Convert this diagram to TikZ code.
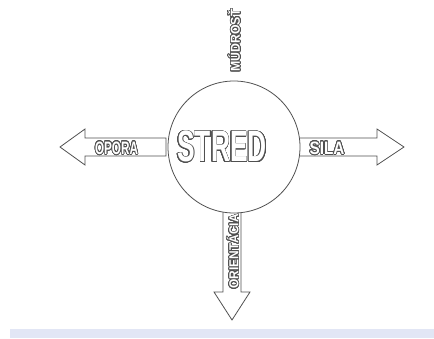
\documentclass[tikz,border=0pt]{standalone}
\usepackage{fontspec}
\setmainfont{Liberation Sans}
\usepackage{contour}
\usepackage{graphicx}
\contourlength{0.75pt}
\contournumber{24}
\definecolor{edge}{RGB}{80,80,80}
\definecolor{band}{RGB}{226,230,245}
\newcommand{\outltxt}[3]{{\fontsize{#2}{#2}\selectfont\bfseries\contour{edge}{\scalebox{#1}[1]{\color{white}#3}}}}
\tikzset{
  arrowshape/.style={draw=edge, line width=0.8pt, fill=white, line join=miter},
  lbl/.style={inner sep=0pt, outer sep=0pt},
}
\begin{document}
\begin{tikzpicture}[x=1pt,y=-1pt]
\useasboundingbox (0,0) rectangle (434,338);
\fill[band] (10,329) rectangle (434,338);
% arrows
\draw[arrowshape] (166,138) -- (85,138) -- (85,129) -- (60,147) -- (85,165) -- (85,156) -- (166,156) -- cycle;
\draw[arrowshape] (298,138) -- (377,138) -- (377,129) -- (404,147) -- (377,165) -- (377,156) -- (298,156) -- cycle;
\draw[arrowshape] (223,205) -- (223,292) -- (214,292) -- (232,320) -- (250,292) -- (241,292) -- (241,205) -- cycle;
% circle
\node[draw=edge, line width=0.8pt, fill=white, circle, minimum size=132pt, inner sep=0pt] (stred) at (234,147) {};
\node[lbl] (stredtxt) at (222,147) {\outltxt{0.6}{44}{STRED}};
\node[lbl] (opora) at (116.5,148.5) {\outltxt{0.65}{18}{OPORA}};
\node[lbl] (sila) at (327,148.5) {\outltxt{0.85}{18}{SILA}};
\node[lbl, rotate=90] (mudrost) at (234.5,40.5) {\outltxt{0.95}{13}{MÚDROSŤ}};
\node[lbl, rotate=90] (orient) at (233,251.5) {\outltxt{0.92}{13}{ORIENTÁCIA}};
\end{tikzpicture}
\end{document}
